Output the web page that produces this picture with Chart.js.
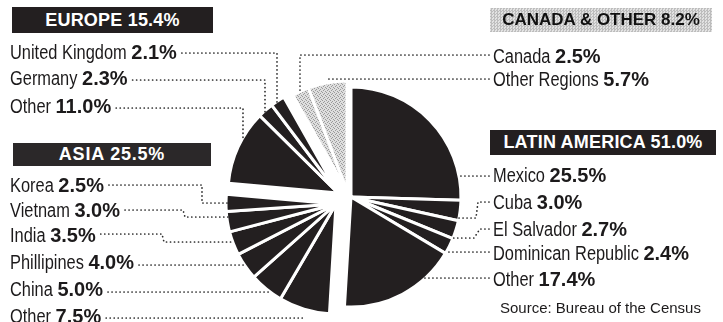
<!DOCTYPE html>
<html><head><meta charset="utf-8">
<script src="https://cdn.jsdelivr.net/npm/chart.js@4/dist/chart.umd.min.js"></script>
<style>
html,body{margin:0;padding:0;background:#fff;}
#wrap{position:relative;width:723px;height:322px;overflow:hidden;background:#fff;}
#c{position:absolute;left:0;top:0;}
.lbl{position:absolute;white-space:nowrap;font-family:"Liberation Sans",Arial,sans-serif;font-size:20px;line-height:20px;height:20px;color:#1c1a1b;}
.lbl .nm{display:inline-block;transform:scaleX(0.82);transform-origin:0 50%;}
.lbl b{font-weight:bold;}
.hdr{position:absolute;display:flex;align-items:center;justify-content:center;font-family:"Liberation Sans",Arial,sans-serif;font-weight:bold;font-size:18px;color:#fff;background:#231f20;white-space:nowrap;}
.src{position:absolute;white-space:nowrap;font-family:"Liberation Sans",Arial,sans-serif;font-size:15px;line-height:15px;color:#1c1a1b;}
</style></head>
<body>
<div id="wrap"><canvas id="c" width="723" height="322"></canvas></div>
<script>
// ---------- DATA ----------
const categories = ['Mexico','Cuba','El Salvador','Dominican Republic','Other','Other','China','Phillipines','India','Vietnam','Korea','Other','Germany','United Kingdom','Canada','Other Regions'];
const values = [25.5, 3.0, 2.7, 2.4, 17.4, 7.5, 5.0, 4.0, 3.5, 3.0, 2.5, 11.0, 2.3, 2.1, 2.5, 5.7];
const sliceGroup = [0,0,0,0,0, 1,1,1,1,1,1, 2,2,2, 3,3];
const groupNames = ['LATIN AMERICA', 'ASIA', 'EUROPE', 'CANADA & OTHER'];
const groupTotals = [51.0, 25.5, 15.4, 8.2];
const sourceNote = 'Source: Bureau of the Census';

// ---------- LAYOUT / STYLE ----------
const BLACK = '#231f20';
const NAME_SCALE = 0.82;
// group header boxes: [left, top, width, height, bg, fg, letterSpacing, fontSize]
const headerBox = [
  [490, 130, 226, 25, BLACK, '#fff', 0.2, 18],
  [13, 143, 198, 23, '#2b2829', '#fff', 0.8, 18],
  [12, 7, 201, 26, BLACK, '#fff', 0.2, 18],
  [490, 8, 222, 24, 'pattern', '#111', 0, 17]
];
// label anchor [left, capCenterY] per slice
const labelPos = [
  [493,175],[493,202],[493,229],[493,253],[493,279],
  [10,316],[10,289],[10,262],[10,235],[10,210],[10,185],
  [10,106],[10,78],[10,52],
  [493,56],[493,79]
];
// leader routes: y of first run, intermediate points, final direction
const leaders = [
  {y:176, via:[], end:'h'},
  {y:202, via:[[478,202],[476,218]], end:'h'},
  {y:229, via:[[480,229],[474,238]], end:'h'},
  {y:252, via:[], end:'h'},
  {y:278, via:[], end:'h'},
  {y:318, via:[], end:'h'},
  {y:292, via:[], end:'h'},
  {y:265, via:[], end:'h'},
  {y:234, via:[[162,234],[164,242]], end:'h'},
  {y:210, via:[[183,210],[185,217]], end:'h'},
  {y:185, via:[[202,185],[202,203]], end:'h'},
  {y:108, via:[[243,108]], end:'v'},
  {y:80, via:[[265,80]], end:'v'},
  {y:53, via:[[277,53]], end:'v'},
  {y:55, via:[[300,55]], end:'v'},
  {y:79, via:[], end:'h'}
];
// exploded group offsets (px)
const groupShift = [[7,0],[-8,7],[-6,-4],[3,-6]];

// gray halftone pattern
function makePattern(){
  const p = document.createElement('canvas'); p.width = 4; p.height = 4;
  const g = p.getContext('2d');
  g.fillStyle = '#dedede'; g.fillRect(0,0,4,4);
  g.fillStyle = '#9a9a9a';
  [[0,0],[2,1],[1,3],[3,2]].forEach(([x,y])=>g.fillRect(x,y,1,1));
  return document.getElementById('c').getContext('2d').createPattern(p,'repeat');
}
const grayPattern = makePattern();

// ---------- TEXT (HTML) ----------
const wrap = document.getElementById('wrap');
const labelEls = categories.map((name,i)=>{
  const d = document.createElement('div');
  d.className = 'lbl';
  const nm = document.createElement('span');
  nm.className = 'nm'; nm.textContent = name;
  d.appendChild(nm);
  d.appendChild(document.createTextNode(' '));
  const b = document.createElement('b');
  b.textContent = values[i].toFixed(1) + '%';
  d.appendChild(b);
  d.style.left = labelPos[i][0] + 'px';
  d.style.top = (labelPos[i][1] - 10) + 'px';
  wrap.appendChild(d);
  const w = nm.getBoundingClientRect().width / NAME_SCALE;
  nm.style.marginRight = (-(1 - NAME_SCALE) * w - 1) + 'px';
  return d;
});
groupNames.forEach((n,g)=>{
  const b = headerBox[g];
  const d = document.createElement('div');
  d.className = 'hdr';
  d.textContent = n + ' ' + groupTotals[g].toFixed(1) + '%';
  Object.assign(d.style,{left:b[0]+'px',top:b[1]+'px',width:b[2]+'px',height:b[3]+'px',color:b[5],letterSpacing:b[6]+'px',fontSize:b[7]+'px'});
  if (b[4] === 'pattern') {
    d.style.background = 'repeating-conic-gradient(#bdbdbd 0 25%, #e2e2e2 0 50%) 0 0/3px 3px';
  } else d.style.background = b[4];
  wrap.appendChild(d);
});
const s = document.createElement('div');
s.className = 'src'; s.textContent = sourceNote;
s.style.left = '500px'; s.style.top = '300px';
wrap.appendChild(s);

// ---------- PLUGINS ----------
const shiftPlugin = {
  id: 'groupShift',
  beforeDatasetDraw(chart, args) {
    const ctx = chart.ctx;
    args.meta.data.forEach((arc, i) => {
      const sh = groupShift[sliceGroup[i]];
      ctx.save(); ctx.translate(sh[0], sh[1]); arc.draw(ctx); ctx.restore();
    });
    return false;
  }
};
const leaderPlugin = {
  id: 'leaders',
  afterDraw(chart) {
    const ctx = chart.ctx;
    const arcs = chart.getDatasetMeta(0).data;
    const wr = wrap.getBoundingClientRect();
    ctx.save();
    ctx.strokeStyle = '#2a2a2a'; ctx.lineWidth = 1.7; ctx.lineCap = 'round';
    ctx.setLineDash([0.1, 3.9]);
    leaders.forEach((L, i) => {
      const arc = arcs[i];
      const sh = groupShift[sliceGroup[i]];
      const cx = arc.x + sh[0], cy = arc.y + sh[1], R = arc.outerRadius - 1;
      const r = labelEls[i].getBoundingClientRect();
      const right = labelPos[i][0] > cx;
      const sx = right ? (r.left - wr.left - 4) : (r.right - wr.left + 5);
      const pts = [[sx, L.y]].concat(L.via);
      const last = pts[pts.length - 1];
      let end;
      if (L.end === 'h') {
        const dy = last[1] - cy;
        if (Math.abs(dy) < R) {
          const w = Math.sqrt(R*R - dy*dy);
          end = [right ? cx + w : cx - w, last[1]];
        } else {
          const a = (arc.startAngle + arc.endAngle) / 2;
          end = [cx + Math.cos(a) * R, last[1]];
        }
      } else {
        const dx = last[0] - cx;
        const h = Math.sqrt(Math.max(R*R - dx*dx, 0));
        end = [last[0], cy - h];
      }
      pts.push(end);
      ctx.beginPath();
      ctx.moveTo(pts[0][0], pts[0][1]);
      for (let k = 1; k < pts.length; k++) ctx.lineTo(pts[k][0], pts[k][1]);
      ctx.stroke();
    });
    ctx.restore();
  }
};

new Chart(document.getElementById('c'), {
  type: 'pie',
  data: {
    labels: categories,
    datasets: [{
      data: values,
      backgroundColor: sliceGroup.map(g => g === 3 ? grayPattern : BLACK),
      borderColor: '#ffffff',
      borderWidth: 3,
      radius: 110
    }]
  },
  options: {
    responsive: false,
    animation: false,
    events: [],
    layout: { padding: { left: 0, right: 35, top: 72, bottom: 0 } },
    plugins: { legend: { display: false }, tooltip: { enabled: false } }
  },
  plugins: [shiftPlugin, leaderPlugin]
});
</script>
</body></html>
